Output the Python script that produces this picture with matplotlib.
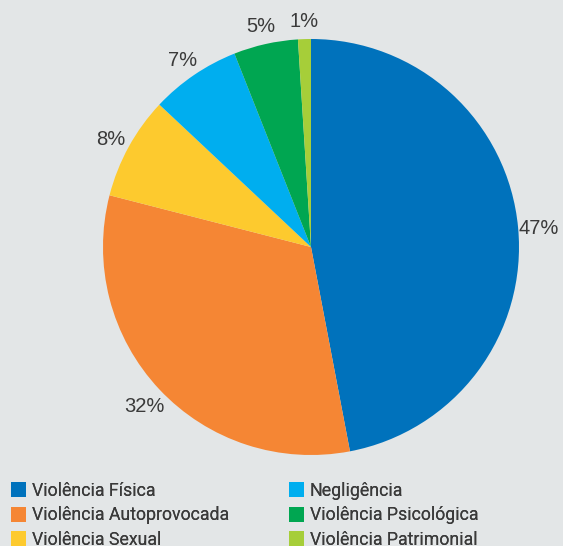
import matplotlib.pyplot as plt
from matplotlib.patches import Patch

# data
categories = ['Violência Física', 'Violência Autoprovocada', 'Violência Sexual',
              'Negligência', 'Violência Psicológica', 'Violência Patrimonial']
values = [47, 32, 8, 7, 5, 1]
colors = ['#0072bc', '#f58634', '#fdca2e', '#00aeef', '#00a651', '#a6ce39']

bg = '#e3e6e7'
txt = '#3a3a3a'
plt.rcParams['font.family'] = ['Roboto', 'DejaVu Sans']

W, H = 563, 546
fig = plt.figure(figsize=(W / 100, H / 100), dpi=100, facecolor=bg)
ax = fig.add_axes([0, 0, 1, 1])
ax.set_facecolor(bg)

# pixel coordinates, 1 unit = 1 px
wedges, _, pcts = ax.pie(values, colors=colors, startangle=90, counterclock=False,
                         center=(311, H - 247), radius=208,
                         autopct='%.0f%%', pctdistance=1.1,
                         textprops=dict(color=txt, fontsize=14.5,
                                        family=['Liberation Sans', 'DejaVu Sans']),
                         wedgeprops=dict(linewidth=0))
for t in pcts:
    x, y = t.get_position()
    t.set_position((x, y - 3))
ax.set_xlim(0, W)
ax.set_ylim(0, H)
ax.set_aspect('equal')
ax.axis('off')

handles = [Patch(facecolor=c, edgecolor='none') for c in colors]
# two single-column legends so each column sits where the reference has it
for i, x0 in enumerate([11, 289]):
    leg = fig.legend(handles[3 * i:3 * i + 3], categories[3 * i:3 * i + 3],
                     loc='upper left', bbox_to_anchor=(x0 / W, 1 - 482 / H),
                     frameon=False, fontsize=12.8, labelcolor=txt,
                     handlelength=0.84, handleheight=0.92, handletextpad=0.34,
                     labelspacing=0.36, borderpad=0, borderaxespad=0)
    fig.add_artist(leg)

fig.savefig('out.png', dpi=100, facecolor=bg)
